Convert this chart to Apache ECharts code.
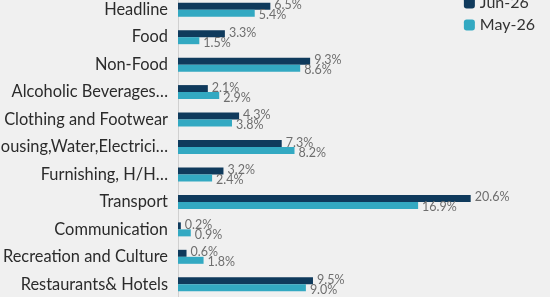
<!DOCTYPE html>
<html>
<head>
<meta charset="utf-8">
<script src="https://cdn.jsdelivr.net/npm/echarts@6/dist/echarts.min.js"></script>
<style>
  html, body { margin: 0; padding: 0; background: #f0f0f0; }
  #chart { width: 550px; height: 297px; }
</style>
</head>
<body>
<div id="chart"></div>
<script>
const categories = [
  'Headline', 'Food', 'Non-Food', 'Alcoholic Beverages…', 'Clothing and Footwear',
  'Housing,Water,Electrici…', 'Furnishing, H/H…', 'Transport', 'Communication',
  'Recreation and Culture', 'Restaurants& Hotels'
];
const jun26 = [6.5, 3.3, 9.3, 2.1, 4.3, 7.3, 3.2, 20.6, 0.2, 0.6, 9.5];
const may26 = [5.4, 1.5, 8.6, 2.9, 3.8, 8.2, 2.4, 16.9, 0.9, 1.8, 9.0];

var myChart = echarts.init(document.getElementById('chart'));

const labelStyle = {
  show: true,
  position: 'right',
  distance: 4,
  color: '#6e6e6e',
  fontFamily: 'Lato',
  fontSize: 12.5,
  formatter: (p) => p.value.toFixed(1) + '%'
};

const option = {
  backgroundColor: '#f0f0f0',
  animation: false,
  legend: {
    orient: 'vertical',
    right: 10,
    top: -10,
    itemWidth: 11,
    itemHeight: 11,
    itemGap: 6,
    textStyle: { fontFamily: 'Lato', fontSize: 16, color: '#333' },
    data: ['Jun-26', 'May-26']
  },
  grid: {
    left: 178,
    right: 31,
    top: -4,
    bottom: -1,
    containLabel: false,
    outerBoundsMode: 'none'
  },
  xAxis: {
    type: 'value',
    min: 0,
    max: 24,
    show: false
  },
  yAxis: {
    type: 'category',
    inverse: true,
    data: categories,
    axisTick: { show: false },
    axisLine: { lineStyle: { color: '#d0d0d0' } },
    axisLabel: { color: '#2b2b2b', fontFamily: 'Lato', fontSize: 16.4, margin: 10 }
  },
  series: [
    {
      name: 'Jun-26',
      type: 'bar',
      data: jun26,
      barWidth: 7,
      barGap: '0%',
      itemStyle: { color: '#0f3a5c' },
      label: Object.assign({}, labelStyle, { offset: [0, -1] })
    },
    {
      name: 'May-26',
      type: 'bar',
      data: may26,
      barWidth: 7,
      barGap: '0%',
      itemStyle: { color: '#33a9c2' },
      label: Object.assign({}, labelStyle, { offset: [0, 2] })
    }
  ]
};

myChart.setOption(option);
</script>
</body>
</html>
